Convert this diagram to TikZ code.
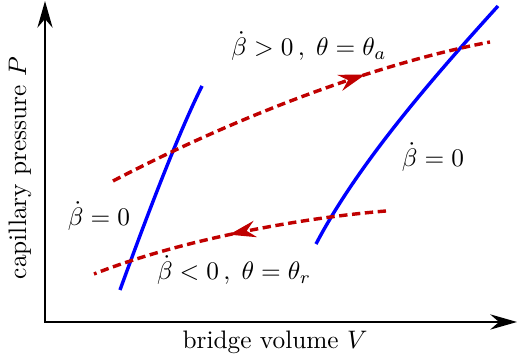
\documentclass[tikz,border=0pt]{standalone}
\usepackage{amsmath,amssymb}
\usepackage{tikz}
\usepackage{xcolor}
\usetikzlibrary{arrows.meta,decorations.markings}
\definecolor{ink}{HTML}{000000}
\definecolor{rimblue}{HTML}{0000FF}
\definecolor{pathred}{HTML}{C00000}
\tikzset{
  axisarr/.style={{Stealth[length=3.7mm,width=2.1mm]}-{Stealth[length=3.7mm,width=2.1mm]},
                  draw=ink,line width=1pt},
  rimline/.style={draw=rimblue,line width=1.35pt},
  pathline/.style={draw=pathred,line width=1.35pt,dash pattern=on 3.3pt off 1.8pt},
  midarrow/.style={postaction={decorate,decoration={markings,
                   mark=at position #1 with {\arrow[pathred]{Stealth[length=3.7mm,width=2.3mm]}}}}},
  axislabel/.style={font=\normalsize,inner sep=0pt},
  statelabel/.style={font=\normalsize,inner sep=0pt}
}

\begin{document}
\begin{tikzpicture}[x=0.01389cm,y=-0.01389cm]
      \useasboundingbox (0,0) rectangle (518,359);
      % axes
      \coordinate (orig) at (45,322);
      \coordinate (ptop) at (45,1);
      \coordinate (vend) at (517,322);
      \draw[axisarr] (ptop) -- (orig) -- (vend);
      \node[axislabel,rotate=90] (plabel) at (20,168) {capillary pressure $P$};
      \node[axislabel] (vlabel) at (275,342) {bridge volume $V$};
      % pinned contact lines
      \draw[rimline] (120,290) .. controls (140,235) and (175,140) .. (202,86);
      \draw[rimline] (316,244) .. controls (360,160) and (440,70) .. (498,6);
      % advancing and receding paths
      \draw[pathline,midarrow=0.68] (113,181) .. controls (230,120) and (370,65) .. (490,42);
      \draw[pathline,midarrow=0.53] (386,211) .. controls (300,218) and (180,240) .. (94,274);
      % labels
      \node[statelabel] (adv) at (309,46) {$\dot\beta>0\,,\;\theta=\theta_a$};
      \node[statelabel] (pinr) at (433,157) {$\dot\beta=0$};
      \node[statelabel] (pinl) at (99,216) {$\dot\beta=0$};
      \node[statelabel] (rec) at (234,270) {$\dot\beta<0\,,\;\theta=\theta_r$};
    \end{tikzpicture}
\end{document}
